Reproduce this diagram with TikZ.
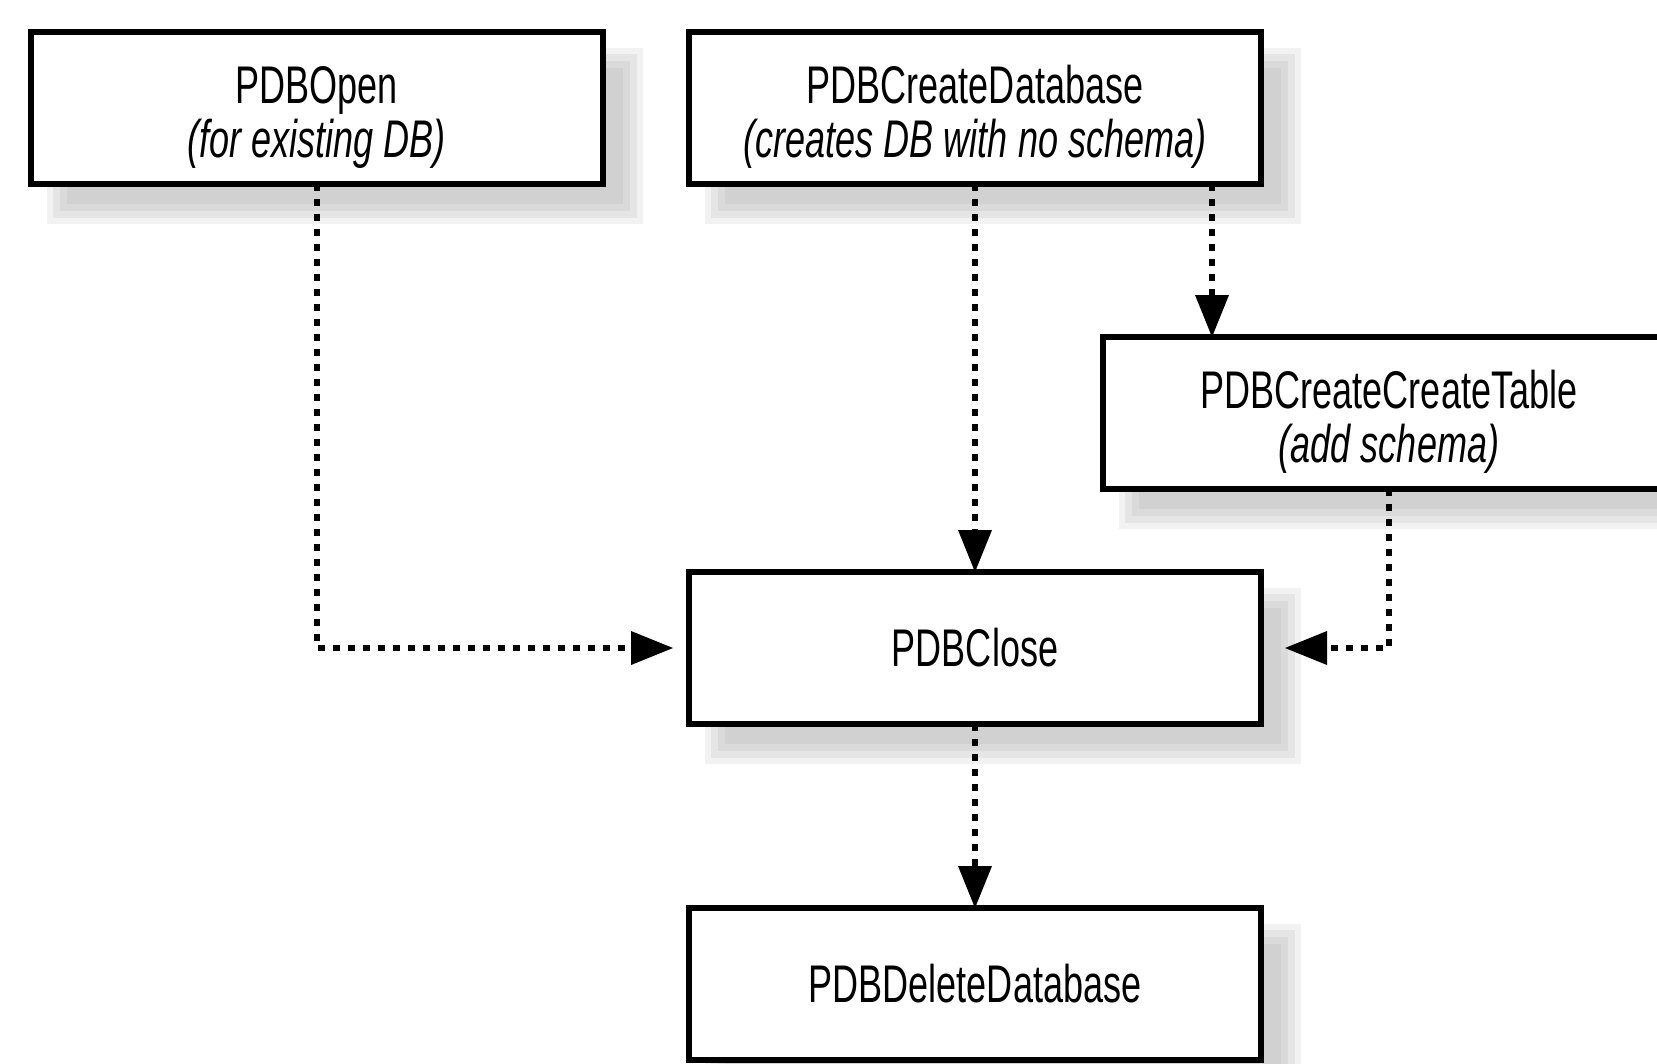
\documentclass[tikz,border=0pt]{standalone}
\usepackage{fontspec}
\setmainfont{Liberation Sans}[FakeStretch=0.68]
\usetikzlibrary{arrows.meta,backgrounds,calc}

\tikzset{
  fnbox/.style={draw=black, line width=6pt, fill=white,
    minimum width=572pt, minimum height=152pt, inner sep=0pt, outer sep=0pt,
    align=center, font=\fontsize{53}{54}\selectfont},
  flow/.style={line width=6pt, dash pattern=on 7pt off 8pt,
    -{Triangle[length=42pt,width=34pt,line width=0pt]}},
}

% soft drop shadow below and right of a box (offset 28,-28; graded edge)
\newcommand\boxshade[1]{%
  \begin{pgfonlayer}{background}
    \fill[gray!10] ($(#1.south west)+(16,-40)$) rectangle ($(#1.north east)+(40,-16)$);
    \fill[gray!20] ($(#1.south west)+(22,-34)$) rectangle ($(#1.north east)+(34,-22)$);
    \fill[gray!29] ($(#1.south west)+(29,-27)$) rectangle ($(#1.north east)+(27,-29)$);
    \fill[gray!36] ($(#1.south west)+(36,-20)$) rectangle ($(#1.north east)+(20,-36)$);
  \end{pgfonlayer}}

\begin{document}
\begin{tikzpicture}[x=1pt, y=1pt]
  \useasboundingbox (0,0) rectangle (1657,-1063);
  \begin{pgfonlayer}{background}
    \fill[white] (0,0) rectangle (1657,-1063);
  \end{pgfonlayer}

  % function boxes
  \node[fnbox] (open)     at (316.5,-108) {\rule{0pt}{55pt}PDBOpen\\\textit{(for existing DB)}};
  \node[fnbox] (createdb) at (975,-108)   {\rule{0pt}{55pt}PDBCreateDatabase\\\textit{(creates DB with no schema)}};
  \node[fnbox] (table)    at (1389,-413)  {\rule{0pt}{55pt}PDBCreateCreateTable\\\textit{(add schema)}};
  \node[fnbox] (close)    at (975,-648)   {PDBClose};
  \node[fnbox] (delete)   at (975,-984)   {PDBDeleteDatabase};

  \boxshade{open}
  \boxshade{createdb}
  \boxshade{table}
  \boxshade{close}
  \boxshade{delete}

  % call order
  \coordinate (cdbtap) at ([xshift=237pt]createdb.south);
  \draw[flow, shorten >=16pt] (open.south) |- (close.west);
  \draw[flow] (createdb.south) -- (close.north);
  \draw[flow] (cdbtap) -- (cdbtap |- table.north);
  \draw[flow, shorten >=24pt] (table.south) |- (close.east);
  \draw[flow] (close.south) -- (delete.north);
\end{tikzpicture}
\end{document}
